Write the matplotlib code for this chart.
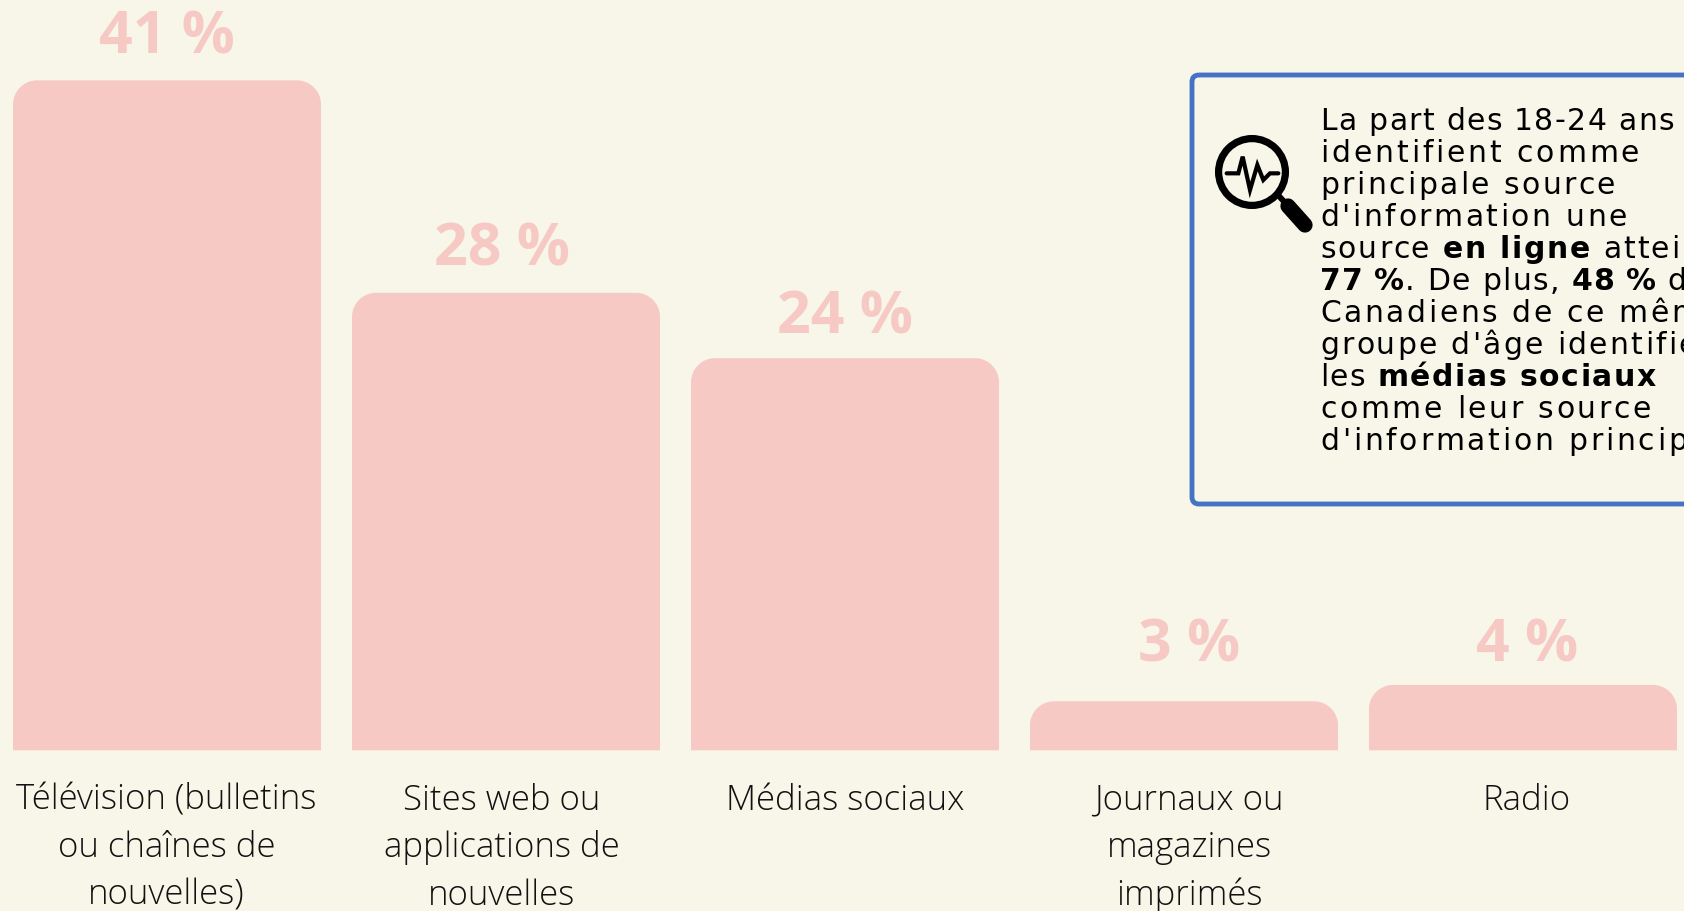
import matplotlib
matplotlib.use("Agg")
import matplotlib.pyplot as plt
from matplotlib.path import Path
from matplotlib.patches import PathPatch, FancyBboxPatch, Circle
from matplotlib.font_manager import FontProperties
from matplotlib.text import Text

# ---- data ----
categories = [
    ["Télévision (bulletins", "ou chaînes de", "nouvelles)"],
    ["Sites web ou", "applications de", "nouvelles"],
    ["Médias sociaux"],
    ["Journaux ou", "magazines", "imprimés"],
    ["Radio"],
]
values = [41, 28, 24, 3, 4]
value_labels = ["41 %", "28 %", "24 %", "3 %", "4 %"]
note_lines = [
    [("La part des 18-24 ans qui", False)],
    [("identifient comme", False)],
    [("principale source", False)],
    [("d'information une", False)],
    [("source ", False), ("en ligne", True), (" atteint", False)],
    [("77 %", True), (". De plus, ", False), ("48 %", True), (" des", False)],
    [("Canadiens de ce même", False)],
    [("groupe d'âge identifient", False)],
    [("les ", False), ("médias sociaux", True)],
    [("comme leur source", False)],
    [("d'information principale", False)],
]
pulse_x = [170, 205, 218, 240, 262, 280, 300, 325]
pulse_y = [340, 340, 290, 390, 315, 360, 340, 340]

# ---- style / layout (pixels of the 1684x911 canvas) ----
W, H = 1684, 911
BG = "#F8F6E9"
PINK = "#F7C9C5"
BLUE = "#4472C4"
INK = "#111111"
PITCH, X0, BASE, PX_PER_UNIT = 339.0, 167.0, 750.3, 16.34
BAR_W, RADIUS = 308.0, 24.0
label_centers = [166.5, 501.6, 845, 1189, 1527]
value_baselines = [53.5, 266, 334, 661.5, 661.5]
cat_baselines = [809.5, 857, 905]
# letter spacing per line of the note: (regular, bold)
note_tracking = [(1.35, 1.8), (2.9, 1.8), (2.45, 1.8), (2.6, 1.8), (2.0, 1.7), (1.4, 0.8),
                 (2.6, 1.8), (2.3, 1.8), (1.45, 1.55), (2.7, 1.8), (2.8, 1.8)]


class TrackedText(Text):
    """One text, drawn with letter spacing (in pixels)."""

    def __init__(self, *args, tracking=0.0, **kwargs):
        super().__init__(*args, **kwargs)
        self.tracking = tracking

    def advance(self, renderer, s):
        if not s:
            return 0.0
        w, _, _ = renderer.get_text_width_height_descent(s, self.get_fontproperties(), False)
        return w + self.tracking * len(s)

    def draw(self, renderer):
        s = self.get_text()
        x, y = self.get_position()
        trans = self.get_transform()
        x0, y0 = trans.transform((x, y))
        inv = trans.inverted()
        for i, ch in enumerate(s):
            if ch == " ":
                continue
            px = x0 + self.advance(renderer, s[:i])
            self.set_text(ch)
            self.set_position(inv.transform((px, y0)))
            super().draw(renderer)
        self.set_text(s)
        self.set_position((x, y))


fig = plt.figure(figsize=(W / 100, H / 100), dpi=100, facecolor=BG)

# data axes: bars go through the scale
ax = fig.add_axes([0, 0, 1, 1], facecolor="none")
ax.set_xlim(-X0 / PITCH, (W - X0) / PITCH)
ax.set_ylim((BASE - H) / PX_PER_UNIT, BASE / PX_PER_UNIT)
ax.axis("off")

w = BAR_W / PITCH
rx, ry = RADIUS / PITCH, RADIUS / PX_PER_UNIT
k = 0.45
for i, v in enumerate(values):
    l, r = i - w / 2, i + w / 2
    verts = [(l, 0), (l, v - ry),
             (l, v - ry * k), (l + rx * k, v), (l + rx, v),
             (r - rx, v),
             (r - rx * k, v), (r, v - ry * k), (r, v - ry),
             (r, 0), (l, 0)]
    codes = [Path.MOVETO, Path.LINETO,
             Path.CURVE4, Path.CURVE4, Path.CURVE4,
             Path.LINETO,
             Path.CURVE4, Path.CURVE4, Path.CURVE4,
             Path.LINETO, Path.CLOSEPOLY]
    ax.add_patch(PathPatch(Path(verts, codes), facecolor=PINK, edgecolor="none"))

# overlay axes in pixels, for text and annotation box
ov = fig.add_axes([0, 0, 1, 1], facecolor="none")
ov.set_xlim(0, W)
ov.set_ylim(H, 0)
ov.axis("off")

for cx, by, t in zip(label_centers, value_baselines, value_labels):
    ov.text(cx, by, t, family="Open Sans", weight="bold", fontsize=42.5,
            color=PINK, ha="center", va="baseline")

for cx, lines in zip(label_centers, categories):
    for by, t in zip(cat_baselines, lines):
        ov.text(cx, by, t, family="Open Sans", weight="light", fontsize=25,
                color=INK, ha="center", va="baseline")

# note box, running past the right edge like the source
ov.add_patch(FancyBboxPatch((1192, 75), 700, 429, boxstyle="round,pad=0,rounding_size=7",
                            facecolor="none", edgecolor=BLUE, linewidth=3.5))

# magnifier icon
ov.add_patch(Circle((1252, 172), 33.4, facecolor="none", edgecolor="black", linewidth=5.2))
ov.plot([1278, 1289], [195, 207], color="black", lw=4.2, solid_capstyle="butt")
ov.plot([1288, 1305], [206, 225], color="black", lw=11, solid_capstyle="round")
ov.plot([1170 + x / 3 for x in pulse_x], [60 + y / 3 for y in pulse_y],
        color="black", lw=3.0, solid_joinstyle="miter", solid_capstyle="round")

# note text
fig.canvas.draw()
rend = fig.canvas.get_renderer()
NOTE_X, NOTE_Y0, NOTE_DY = 1320, 129.5, 32.1
for n, (runs, (trk_reg, trk_bold)) in enumerate(zip(note_lines, note_tracking)):
    x = NOTE_X
    y = NOTE_Y0 + n * NOTE_DY
    for s, bold in runs:
        fp = FontProperties(family="DejaVu Sans", weight="bold" if bold else "normal", size=21.5)
        t = TrackedText(x, y, s, fontproperties=fp, color="black", ha="left", va="baseline",
                        tracking=trk_bold if bold else trk_reg)
        ov.add_artist(t)
        x += t.advance(rend, s)

fig.savefig("out.png", dpi=100, facecolor=BG)
